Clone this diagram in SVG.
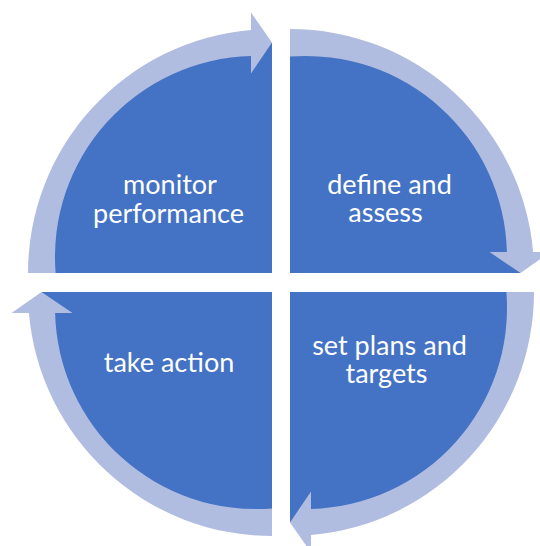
<svg xmlns="http://www.w3.org/2000/svg" width="540" height="546" viewBox="0 0 540 546">
  <style>
    .pie { fill: #4472C4; }
    .arrow { fill: #B1BDE0; }
    .label { font-family: "Lato", "Liberation Sans", sans-serif; font-size: 27px; fill: #FFFFFF; text-anchor: middle; }
  </style>
  <defs>
    <path id="quarter" d="M 0 0 L -230 0 A 230 230 0 0 1 0 -230 Z"/>
    <path id="circArrow" d="M -244 0 A 244 244 0 0 1 -21 -243.1 L -21 -260.5 L 0 -230.5 L -21 -199.5 L -21 -216.9 A 201 201 0 0 0 -216.4 0 Z"/>
  </defs>

  <g id="node-monitor">
    <use href="#quarter" class="pie" transform="translate(272,273)"/>
    <text class="label"><tspan x="170" y="194">monitor</tspan><tspan x="168.5" y="222.5">performance</tspan></text>
  </g>
  <g id="node-define">
    <use href="#quarter" class="pie" transform="translate(290,273) rotate(90)"/>
    <text class="label"><tspan x="389.5" y="193.5">define and</tspan><tspan x="385.5" y="222">assess</tspan></text>
  </g>
  <g id="node-set">
    <use href="#quarter" class="pie" transform="translate(290,292) rotate(180)"/>
    <text class="label"><tspan x="389.5" y="355">set plans and</tspan><tspan x="386.5" y="383">targets</tspan></text>
  </g>
  <g id="node-take">
    <use href="#quarter" class="pie" transform="translate(272,292) rotate(270)"/>
    <text class="label" x="169" y="372">take action</text>
  </g>

  <g id="connectors">
    <use href="#circArrow" class="arrow" transform="translate(272,273)"/>
    <use href="#circArrow" class="arrow" transform="translate(290,273) rotate(90)"/>
    <use href="#circArrow" class="arrow" transform="translate(290,292) rotate(180)"/>
    <use href="#circArrow" class="arrow" transform="translate(272,292) rotate(270)"/>
  </g>
</svg>
